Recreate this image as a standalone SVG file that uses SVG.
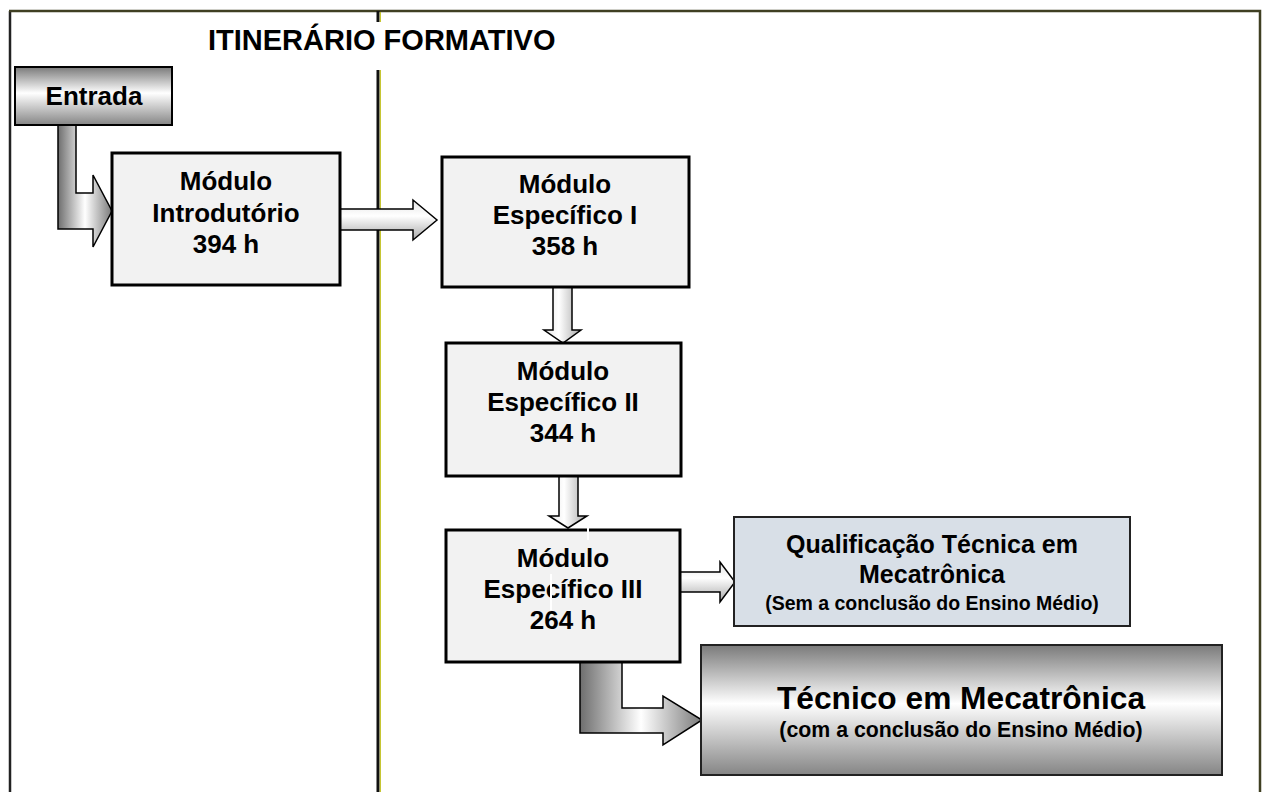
<svg xmlns="http://www.w3.org/2000/svg" width="1263" height="792" viewBox="0 0 1263 792">
<defs>
<linearGradient id="gBoxV" x1="0" y1="0" x2="0" y2="1">
<stop offset="0" stop-color="#7a7a7a"/>
<stop offset="0.45" stop-color="#ffffff"/>
<stop offset="1" stop-color="#858585"/>
</linearGradient>
<linearGradient id="gElbow" x1="0" y1="0" x2="1" y2="0">
<stop offset="0" stop-color="#6e6e6e"/>
<stop offset="0.5" stop-color="#ffffff"/>
<stop offset="1" stop-color="#7a7a7a"/>
</linearGradient>
<linearGradient id="gArrH" x1="0" y1="0" x2="0" y2="1">
<stop offset="0" stop-color="#e4e4e4"/>
<stop offset="0.4" stop-color="#ffffff"/>
<stop offset="1" stop-color="#a8a8a8"/>
</linearGradient>
<linearGradient id="gArrV" x1="0" y1="0" x2="1" y2="0">
<stop offset="0" stop-color="#e4e4e4"/>
<stop offset="0.4" stop-color="#ffffff"/>
<stop offset="1" stop-color="#a8a8a8"/>
</linearGradient>
</defs>
<style>
.t{font-family:"Liberation Sans",Arial,sans-serif;font-weight:bold;fill:#000;text-anchor:middle}
.mod{fill:#f2f2f2;stroke:#000;stroke-width:3}
.arr{stroke:#000;stroke-width:1.5;stroke-linejoin:miter}
</style>
<rect width="1263" height="792" fill="#fff"/>
<g id="frame">
<path d="M10,792 V11" fill="none" stroke="#222" stroke-width="2.5"/>
<path d="M9,11 H1260 V792" fill="none" stroke="#3f3f22" stroke-width="2.5"/>
<path d="M378,11 V22 M378,70 V792" fill="none" stroke="#111" stroke-width="3"/>
<path d="M380.3,12 V22 M380.3,70 V792" fill="none" stroke="#b8b800" stroke-width="1"/>
<text class="t" x="208" y="50" font-size="29" style="text-anchor:start">ITINERÁRIO FORMATIVO</text>
</g>
<g id="connectors">
<polygon class="arr" fill="url(#gElbow)" points="58,125 76,125 76,193 93,193 93,175 112,211 93,247 93,229 58,229"/>
<polygon class="arr" fill="url(#gArrH)" points="340,209 413,209 413,200 437,220 413,240 413,230 340,230"/>
<polygon class="arr" fill="url(#gArrV)" points="553,287 572,287 572,330 581,330 563,343 544,330 553,330"/>
<polygon class="arr" fill="url(#gArrV)" points="559,476 578,476 578,516 587,516 568,528 549,516 559,516"/>
<polygon class="arr" fill="url(#gArrH)" points="680,572 720,572 720,562 735,582 720,602 720,592 680,592"/>
<polygon class="arr" fill="url(#gElbow)" points="580,661 622,661 622,708 663,708 663,696 702,720 663,745 663,733 580,733"/>
</g>
<g id="entrada">
<rect x="15" y="67" width="157" height="58" fill="url(#gBoxV)" stroke="#000" stroke-width="2"/>
<text class="t" x="94" y="105" font-size="26">Entrada</text>
</g>
<g id="introdutorio">
<rect class="mod" x="112" y="153" width="228" height="132"/>
<text class="t" x="226" y="190" font-size="26">Módulo</text>
<text class="t" x="226" y="222" font-size="26">Introdutório</text>
<text class="t" x="226" y="253" font-size="26">394 h</text>
</g>
<g id="especifico1">
<rect class="mod" x="442" y="157" width="247" height="130"/>
<text class="t" x="565" y="193" font-size="26">Módulo</text>
<text class="t" x="565" y="224" font-size="26">Específico I</text>
<text class="t" x="565" y="255" font-size="26">358 h</text>
</g>
<g id="especifico2">
<rect class="mod" x="446" y="343" width="235" height="133"/>
<text class="t" x="563" y="380" font-size="26">Módulo</text>
<text class="t" x="563" y="411" font-size="26">Específico II</text>
<text class="t" x="563" y="442" font-size="26">344 h</text>
</g>
<g id="especifico3">
<rect class="mod" x="446" y="530" width="234" height="132"/>
<text class="t" x="563" y="567" font-size="26">Módulo</text>
<text class="t" x="563" y="598" font-size="26">Específico III</text>
<text class="t" x="563" y="629" font-size="26">264 h</text>
<rect x="587" y="527" width="2" height="13" fill="#fff"/>
<rect x="550" y="574" width="2" height="36" fill="#fff"/>
</g>
<g id="qualificacao">
<rect x="734" y="517" width="396" height="109" fill="#d8dfe7" stroke="#222" stroke-width="2"/>
<text class="t" x="932" y="553" font-size="25">Qualificação Técnica em</text>
<text class="t" x="932" y="583" font-size="25">Mecatrônica</text>
<text class="t" x="932" y="610" font-size="19.5">(Sem a conclusão do Ensino Médio)</text>
</g>
<g id="tecnico">
<rect x="701" y="645" width="521" height="130" fill="url(#gBoxV)" stroke="#222" stroke-width="2"/>
<text class="t" x="961" y="709" font-size="31.7">Técnico em Mecatrônica</text>
<text class="t" x="961" y="737" font-size="21.3">(com a conclusão do Ensino Médio)</text>
</g>
</svg>
